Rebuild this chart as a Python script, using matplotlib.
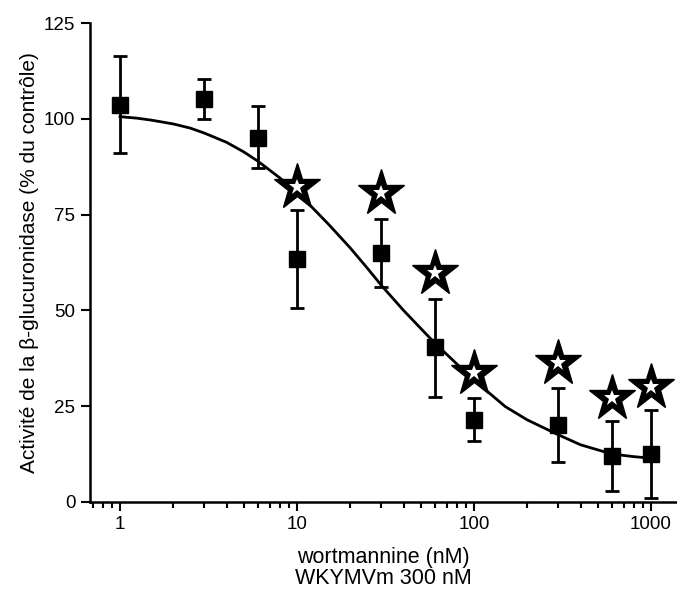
import matplotlib
matplotlib.use("Agg")
import matplotlib.pyplot as plt
from matplotlib.ticker import LogLocator, FixedLocator, NullFormatter

plt.rcParams["font.family"] = ["Liberation Sans", "DejaVu Sans"]

# wortmannine concentrations (nM) and activity (% of control)
conc = [1, 3, 6, 10, 30, 60, 100, 300, 600, 1000]
activity = [103.6, 105.2, 95.1, 63.4, 65.0, 40.5, 21.4, 20.1, 12.0, 12.5]
err_hi = [116.5, 110.4, 103.4, 76.2, 74.0, 53.0, 27.0, 29.8, 21.0, 24.0]
err_lo = [91.0, 100.0, 87.2, 50.6, 56.0, 27.4, 16.0, 10.4, 2.9, 1.0]

# stars (significance marks)
star_x = [10, 30, 60, 100, 300, 600, 1000]
star_y = [82.3, 80.6, 59.8, 33.6, 36.3, 27.2, 30.1]

# fitted curve
curve_x = [1, 1.25, 1.5, 2, 2.5, 3, 4, 5, 6, 8, 10, 12, 15, 20, 25, 30, 40,
           50, 60, 80, 100, 150, 200, 300, 400, 600, 800, 1000]
curve_y = [100.6, 100.2, 99.7, 98.7, 97.6, 96.3, 93.9, 91.4, 89.0, 84.6, 80.7,
           77.2, 72.6, 66.3, 61.0, 56.5, 50.0, 45.3, 41.5, 36.0, 31.8, 24.9,
           21.4, 17.5, 14.9, 12.5, 11.8, 11.4]

yticks = [0, 25, 50, 75, 100, 125]
xticks = [1, 10, 100, 1000]

fig = plt.figure(figsize=(6.77, 5.96), dpi=100)
ax = fig.add_axes([0.133, 0.158, 0.867, 0.803])

ax.plot(curve_x, curve_y, color="black", linewidth=2, zorder=2)

yerr = [[a - l for a, l in zip(activity, err_lo)],
        [h - a for a, h in zip(activity, err_hi)]]
ax.errorbar(conc, activity, yerr=yerr, fmt="s", color="black", markersize=11,
            elinewidth=2, capsize=5, capthick=2, zorder=3)

ax.plot(star_x, star_y, linestyle="none", marker="*", markersize=35,
        markerfacecolor="black", markeredgecolor="black", markeredgewidth=1,
        zorder=4)
ax.plot(star_x, star_y, linestyle="none", marker="*", markersize=12,
        markerfacecolor="white", markeredgewidth=0, zorder=5)

ax.set_xscale("log")
ax.set_xlim(0.677, 1403)
ax.set_ylim(0, 125)
ax.xaxis.set_major_locator(FixedLocator(xticks))
ax.set_xticklabels([str(t) for t in xticks])
ax.xaxis.set_minor_locator(LogLocator(base=10, subs=range(2, 10)))
ax.xaxis.set_minor_formatter(NullFormatter())
ax.set_yticks(yticks)

for s in ["top", "right"]:
    ax.spines[s].set_visible(False)
for s in ["left", "bottom"]:
    ax.spines[s].set_linewidth(1.8)

ax.tick_params(axis="both", which="major", direction="out", length=6.5,
               width=1.5, labelsize=13.5, pad=4)
ax.tick_params(axis="x", which="minor", direction="out", length=4, width=1.5)

ax.set_xlabel("wortmannine (nM)\nWKYMVm 300 nM", fontsize=15.5, labelpad=10,
              linespacing=1.0)
ax.set_ylabel("Activité de la β-glucuronidase (% du contrôle)", fontsize=15,
              labelpad=4)

fig.savefig("out.png", dpi=100)
